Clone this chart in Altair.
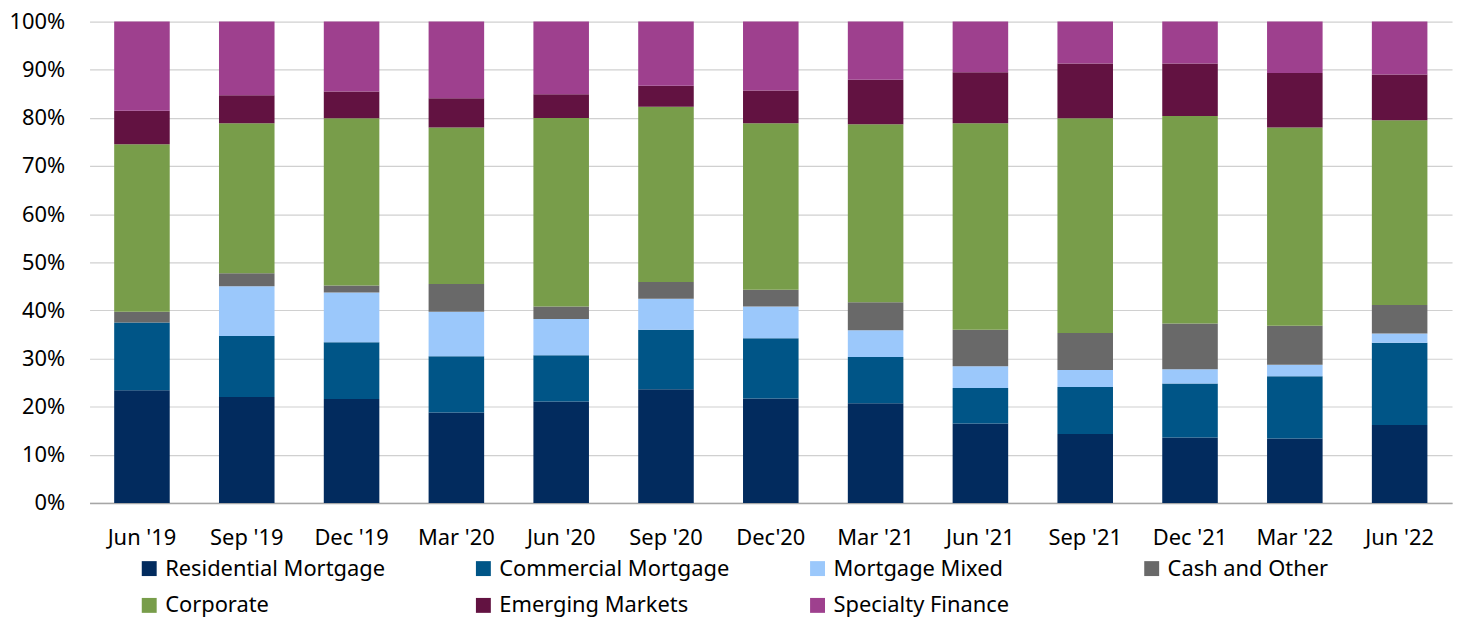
import altair as alt
import pandas as pd

quarters = ["Jun '19", "Sep '19", "Dec '19", "Mar '20", "Jun '20", "Sep '20", "Dec'20",
            "Mar '21", "Jun '21", "Sep '21", "Dec '21", "Mar '22", "Jun '22"]

series = ["Residential Mortgage", "Commercial Mortgage", "Mortgage Mixed", "Cash and Other",
          "Corporate", "Emerging Markets", "Specialty Finance"]

colors = ["#022B5E", "#005587", "#9BC8FB", "#696969", "#789D4A", "#621241", "#9E408E"]

residential = [23.4, 22.0, 21.6, 18.8, 21.1, 23.6, 21.7, 20.7, 16.5, 14.3, 13.6, 13.4, 16.2]
commercial  = [14.1, 12.7, 11.8, 11.7, 9.6, 12.4, 12.5, 9.6, 7.4, 9.8, 11.2, 12.9, 17.1]
mixed       = [0.0, 10.3, 10.3, 9.2, 7.5, 6.4, 6.6, 5.6, 4.5, 3.5, 3.0, 2.4, 1.9]
cash        = [2.2, 2.7, 1.5, 5.8, 2.6, 3.5, 3.5, 5.8, 7.6, 7.7, 9.5, 8.1, 5.9]
corporate   = [34.8, 31.2, 34.7, 32.5, 39.2, 36.4, 34.6, 37.0, 42.9, 44.6, 43.1, 41.2, 38.4]
emerging    = [7.0, 5.8, 5.6, 6.1, 4.9, 4.4, 6.8, 9.2, 10.6, 11.4, 10.9, 11.3, 9.5]
specialty   = [18.5, 15.3, 14.5, 15.9, 15.1, 13.3, 14.3, 12.1, 10.5, 8.7, 8.7, 10.7, 11.0]

values = [residential, commercial, mixed, cash, corporate, emerging, specialty]

rows = []
for si, (name, vals) in enumerate(zip(series, values)):
    for q, v in zip(quarters, vals):
        rows.append({"quarter": q, "series": name, "value": v, "idx": si})
df = pd.DataFrame(rows)

FONT = "Noto Sans"
FS = 22

chart = alt.Chart(df).mark_bar().encode(
    x=alt.X("quarter:N", sort=quarters, title=None,
            scale=alt.Scale(paddingInner=0.47, paddingOuter=0.235),
            axis=alt.Axis(labelAngle=0, labelFontSize=FS, labelFont=FONT, labelColor="#000000",
                          ticks=False, domainColor="#a6a6a6", domainWidth=1.5, labelPadding=25,
                          grid=False)),
    y=alt.Y("value:Q", stack="normalize", title=None,
            scale=alt.Scale(domain=[0, 1]),
            axis=alt.Axis(format=".0%", values=[i / 10 for i in range(11)], labelFontSize=FS,
                          labelFont=FONT, labelColor="#000000", ticks=False, domain=False,
                          gridColor="#d0d0d0", gridWidth=1.2, labelPadding=25,
                          minExtent=82, maxExtent=82)),
    color=alt.Color("series:N", sort=series,
                    scale=alt.Scale(domain=series, range=colors),
                    legend=alt.Legend(title=None, orient="none", legendX=49, legendY=539,
                                      direction="horizontal", columns=4, gridAlign="all",
                                      columnPadding=77, rowPadding=15,
                                      symbolType="square", symbolSize=225, symbolStrokeWidth=0,
                                      labelFontSize=FS, labelFont=FONT, labelColor="#000000",
                                      labelOffset=5, labelLimit=400)),
    order=alt.Order("idx:Q", sort="ascending"),
).properties(
    width=1370,
    height=484,
    autosize=alt.AutoSizeParams(type="none"),
    padding={"left": 82, "top": 12, "right": 7, "bottom": 115},
).configure_view(stroke=None)

chart.save("out.html", embed_options={"renderer": "svg", "actions": False})
